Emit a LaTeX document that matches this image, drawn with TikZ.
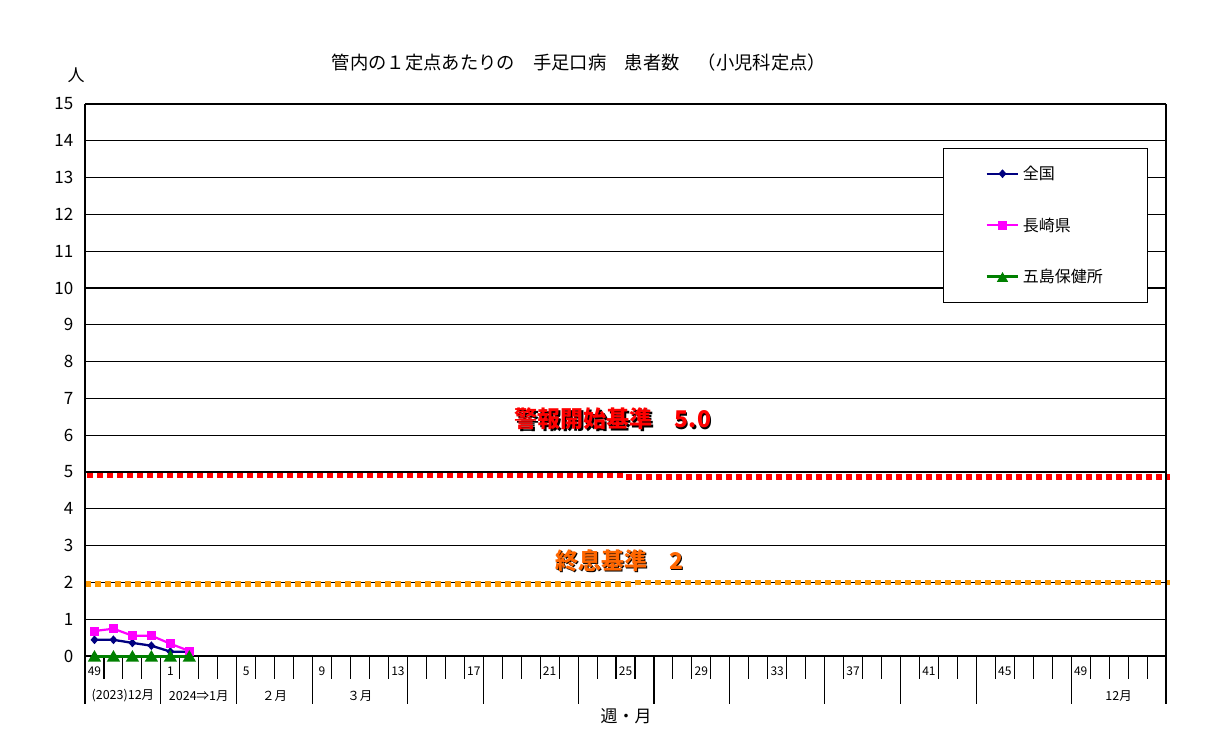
\documentclass[tikz,border=0pt]{standalone}
\usepackage{fontspec}
\setmainfont{Noto Sans CJK JP}
\usetikzlibrary{shapes.geometric}
\newcommand\fsz[1]{\fontsize{#1}{#1}\selectfont}
\definecolor{navyc}{RGB}{0,0,128}
\definecolor{magc}{RGB}{255,0,255}
\definecolor{greenc}{RGB}{0,128,0}
\definecolor{redc}{RGB}{255,0,0}
\definecolor{orangeline}{RGB}{255,153,0}
\definecolor{orangetext}{RGB}{255,102,0}
\begin{document}
\begin{tikzpicture}[x=1pt,y=-1pt,
  grid/.style={line width=1.1pt,black},
  tickmark/.style={line width=1.1pt,black},
  ylab/.style={font=\fsz{17},anchor=east,inner sep=0pt},
  wklab/.style={font=\fsz{12},inner sep=0pt},
  molab/.style={font=\fsz{12.5},inner sep=0pt},
  lgtext/.style={font=\fsz{16},anchor=west,inner sep=0pt},
  navyline/.style={navyc,line width=2.3pt},
  magline/.style={magc,line width=2.2pt},
  greenline/.style={greenc,line width=3pt},
  mkA/.style={diamond,fill=navyc,inner sep=0pt,minimum width=8pt,minimum height=9pt},
  mkB/.style={rectangle,fill=magc,inner sep=0pt,minimum size=9pt},
  mkC/.style={regular polygon,regular polygon sides=3,fill=greenc,inner sep=0pt,minimum size=15.5pt,yshift=-1.8pt},
  bigtxt/.style={font=\fsz{23}\bfseries,inner sep=0pt},
  dotline/.style={line width=5.6pt,dash pattern=on 5.6pt off 4.4pt}
]
\useasboundingbox[fill=white] (0,0) rectangle (1220,749);

% gridlines
\foreach \v in {1,...,15}
  \draw[grid] (85,{656-36.8*\v}) -- (1166,{656-36.8*\v});
% y labels
\foreach \v in {0,...,15}
  \node[ylab] (yl\v) at (73.5,{656-36.8*\v}) {\v};
\node[font=\fsz{17},inner sep=0pt] (unit) at (76,75) {人};

% threshold dotted lines
\draw[dotline,redc] (87,475.6) -- (626,475.6);
\draw[dotline,redc] (626,476.8) -- (1170,476.8);
\draw[dotline,orangeline] (85,584.2) -- (635,584.2);
\draw[dotline,orangeline] (635,582.6) -- (1170,582.6);

% axes
\draw[grid] (85,104) -- (85,704);
\draw[grid] (1166,104) -- (1166,704);
\draw[grid] (85,656) -- (1166,656);
\foreach \j in {1,...,56}
  \draw[tickmark] ({85+\j*18.965},656) -- ({85+\j*18.965},679);
\foreach \j in {4,8,12,17,21,26,30,34,39,43,47,52}
  \draw[tickmark] ({85+\j*18.965},656) -- ({85+\j*18.965},704);

% week labels
\foreach \j/\w in {0/49,4/1,8/5,12/9,16/13,20/17,24/21,28/25,32/29,36/33,40/37,44/41,48/45,52/49}
  \node[wklab] (wk\j) at ({85+(\j+0.5)*18.965},671) {\w};
% month labels
\node[molab] (m0) at ({85+2*18.965},696) {(2023)12月};
\node[molab] (m1) at ({85+6*18.965},696) {2024⇒1月};
\node[molab] (m2) at ({85+10*18.965},696) {２月};
\node[molab] (m3) at ({85+14.5*18.965},696) {３月};
\node[molab] (m12) at ({85+54.5*18.965},696) {12月};
\node[font=\fsz{17},inner sep=0pt] (xtitle) at (626,716) {週・月};

% title
\node[font=\fsz{18.3},inner sep=0pt] (title) at (579,63) {管内の１定点あたりの　手足口病　患者数　（小児科定点）};

% threshold labels
\node[bigtxt,text=black] (alarmsh) at (613.8,420.3) {警報開始基準　\makebox[11.5pt]{5}\makebox[11.5pt]{.}\makebox[11.5pt]{0}};
\node[bigtxt,text=redc] (alarm) at (612.5,419) {警報開始基準　\makebox[11.5pt]{5}\makebox[11.5pt]{.}\makebox[11.5pt]{0}};
\node[bigtxt,text=black] (endsh) at (619.8,561.8) {終息基準　\makebox[11.5pt]{2}};
\node[bigtxt,text=orangetext] (endt) at (618.5,560.5) {終息基準　\makebox[11.5pt]{2}};

% data series
\foreach \i/\v in {0/639.8,1/639.8,2/642.9,3/645.7,4/651.6,5/651.9}
  \coordinate (a\i) at ({85+(\i+0.5)*18.965},\v);
\foreach \i/\v in {0/631.0,1/628.7,2/635.7,3/635.7,4/643.7,5/651.0}
  \coordinate (b\i) at ({85+(\i+0.5)*18.965},\v);
\foreach \i in {0,...,5}
  \coordinate (c\i) at ({85+(\i+0.5)*18.965},656);

\draw[navyline] (a0) -- (a1) -- (a2) -- (a3) -- (a4) -- (a5);
\foreach \i in {0,...,5} \node[mkA] (ma\i) at (a\i) {};
\draw[magline] (b0) -- (b1) -- (b2) -- (b3) -- (b4) -- (b5);
\foreach \i in {0,...,5} \node[mkB] (mb\i) at (b\i) {};
\draw[greenline] (c0) -- (c1) -- (c2) -- (c3) -- (c4) -- (c5);
\foreach \i in {0,...,5} \node[mkC] (mc\i) at (c\i) {};

% legend
\node[draw=black,fill=white,line width=1pt,inner sep=0pt,minimum width=203.4pt,minimum height=154pt,anchor=north west] (legend) at (943.3,148.3) {};
\coordinate (la1) at (986.7,173.7); \coordinate (la2) at (1018.3,173.7);
\coordinate (lb1) at (986.7,225.3); \coordinate (lb2) at (1018.3,225.3);
\coordinate (lc1) at (986.7,276.7); \coordinate (lc2) at (1018.3,276.7);
\draw[navyc,line width=2pt] (la1) -- (la2);
\node[mkA] (lma) at (1002.5,173.7) {};
\draw[magc,line width=2pt] (lb1) -- (lb2);
\node[mkB] (lmb) at (1002.5,225.3) {};
\draw[greenc,line width=2.6pt] (lc1) -- (lc2);
\node[mkC,minimum size=13pt] (lmc) at (1002.5,276.7) {};
\node[lgtext] (lt1) at (1022.7,173.7) {全国};
\node[lgtext] (lt2) at (1022.7,225.3) {長崎県};
\node[lgtext] (lt3) at (1022.7,276.7) {五島保健所};
\end{tikzpicture}
\end{document}
